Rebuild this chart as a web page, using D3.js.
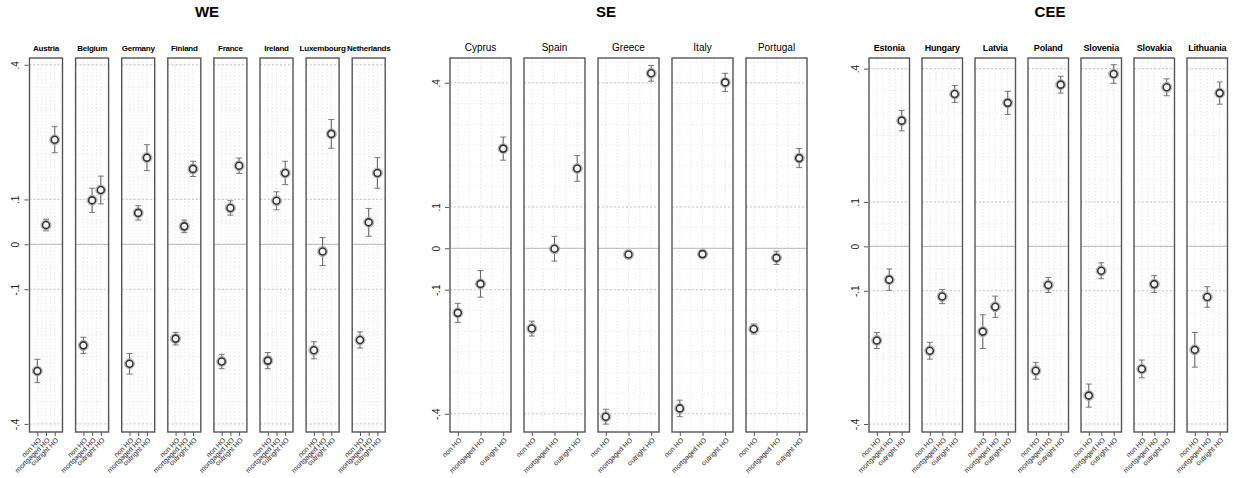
<!DOCTYPE html>
<html>
<head>
<meta charset="utf-8">
<script src="https://cdn.jsdelivr.net/npm/d3@7"></script>
<style>
  html, body { margin: 0; padding: 0; background: #fff; }
  svg { display: block; font-family: "Liberation Sans", Arial, sans-serif; }
</style>
</head>
<body>
<svg id="chart" width="1234" height="478"></svg>
<script>
// Outcome categories shown on every panel's x axis
const categories = ["non HO", "mortgaged HO", "outright HO"];

// Y axis ticks shared by all regions
const yTickValues = [-0.4, -0.1, 0, 0.1, 0.4];
const yTickLabels = ["-.4", "-.1", "0", ".1", ".4"];

// Western Europe
const weCountries = ["Austria", "Belgium", "Germany", "Finland", "France", "Ireland", "Luxembourg", "Netherlands"];
const weEstimates = [
  [-0.282, 0.043, 0.233],
  [-0.225, 0.098, 0.121],
  [-0.266, 0.070, 0.193],
  [-0.210, 0.040, 0.168],
  [-0.261, 0.081, 0.175],
  [-0.259, 0.097, 0.159],
  [-0.236, -0.016, 0.246],
  [-0.213, 0.049, 0.159]
];
const weErrors = [
  [0.026, 0.013, 0.029],
  [0.018, 0.027, 0.031],
  [0.023, 0.016, 0.029],
  [0.014, 0.014, 0.017],
  [0.016, 0.016, 0.017],
  [0.018, 0.020, 0.026],
  [0.019, 0.031, 0.032],
  [0.018, 0.031, 0.034]
];

// Southern Europe
const seCountries = ["Cyprus", "Spain", "Greece", "Italy", "Portugal"];
const seEstimates = [
  [-0.156, -0.086, 0.241],
  [-0.194, -0.001, 0.193],
  [-0.407, -0.015, 0.423],
  [-0.387, -0.014, 0.401],
  [-0.195, -0.023, 0.218]
];
const seErrors = [
  [0.023, 0.032, 0.028],
  [0.018, 0.030, 0.031],
  [0.018, 0.007, 0.019],
  [0.020, 0.008, 0.022],
  [0.012, 0.016, 0.023]
];

// Central and Eastern Europe
const ceeCountries = ["Estonia", "Hungary", "Latvia", "Poland", "Slovenia", "Slovakia", "Lithuania"];
const ceeEstimates = [
  [-0.212, -0.075, 0.283],
  [-0.235, -0.113, 0.343],
  [-0.192, -0.136, 0.323],
  [-0.280, -0.087, 0.364],
  [-0.336, -0.055, 0.388],
  [-0.276, -0.085, 0.358],
  [-0.233, -0.114, 0.345]
];
const ceeErrors = [
  [0.018, 0.024, 0.023],
  [0.019, 0.016, 0.019],
  [0.038, 0.024, 0.026],
  [0.019, 0.017, 0.019],
  [0.026, 0.018, 0.021],
  [0.020, 0.019, 0.019],
  [0.039, 0.023, 0.025]
];

// Panel geometry for each region block
const blocks = [
  { title: "WE",  titleX: 207, countries: weCountries,  est: weEstimates,  err: weErrors,
    left: 29.5, panelW: 33, step: 46.1, yDomain: [-0.418, 0.415], titleFont: "bold 8px", titleSpacing: -0.25, axisLabelX: 15 },
  { title: "SE",  titleX: 606, countries: seCountries,  est: seEstimates,  err: seErrors,
    left: 450, panelW: 61, step: 74, yDomain: [-0.444, 0.46], titleFont: "10px", titleSpacing: 0, axisLabelX: 436 },
  { title: "CEE", titleX: 1050, countries: ceeCountries, est: ceeEstimates, err: ceeErrors,
    left: 869, panelW: 40.5, step: 53, yDomain: [-0.418, 0.424], titleFont: "bold 9px", titleSpacing: -0.2, axisLabelX: 855 }
];

const panelTop = 58, panelBottom = 432;
const svg = d3.select("#chart");

blocks.forEach(b => {
  const g = svg.append("g");
  const y = d3.scaleLinear().domain(b.yDomain).range([panelBottom, panelTop]);

  // Region title
  g.append("text")
    .attr("x", b.titleX).attr("y", 17)
    .attr("text-anchor", "middle")
    .style("font", "bold 15px 'Liberation Sans', Arial, sans-serif")
    .text(b.title);

  // Y axis on the left of the first panel
  const yAxis = d3.axisLeft(y).tickValues(yTickValues)
    .tickFormat((d, i) => yTickLabels[i]).tickSize(4).tickPadding(3);
  const ya = g.append("g").attr("transform", `translate(${b.left - 1},0)`).call(yAxis);
  ya.select(".domain").remove();
  ya.selectAll(".tick line").attr("stroke", "#555");
  ya.selectAll(".tick text")
    .attr("x", null).attr("dy", null)
    .attr("transform", `translate(${b.axisLabelX - (b.left - 1)},0) rotate(-90)`)
    .attr("text-anchor", "middle")
    .attr("dy", "0.35em")
    .style("font", "10px 'Liberation Sans', Arial, sans-serif")
    .attr("fill", "#222");

  b.countries.forEach((c, ci) => {
    const x0 = b.left + ci * b.step;
    const x = d3.scalePoint().domain(categories).range([x0 + 7.8, x0 + b.panelW - 7.8]);
    const p = g.append("g");

    // Minor grid
    const minor = d3.range(-0.4, 0.46, 0.05).filter(v => v >= b.yDomain[0] && v <= b.yDomain[1]);
    p.selectAll("line.minor").data(minor).join("line")
      .attr("x1", x0).attr("x2", x0 + b.panelW)
      .attr("y1", d => y(d)).attr("y2", d => y(d))
      .attr("stroke", "#e4e4e4").attr("stroke-width", 0.7).attr("stroke-dasharray", "1.5,2");

    const mids = [];
    for (let i = 0; i < categories.length - 1; i++) mids.push((x(categories[i]) + x(categories[i + 1])) / 2);
    p.selectAll("line.vg").data(categories.map(k => x(k)).concat(mids)).join("line")
      .attr("x1", d => d).attr("x2", d => d).attr("y1", panelTop).attr("y2", panelBottom)
      .attr("stroke", "#dcdcdc").attr("stroke-width", 0.7).attr("stroke-dasharray", "1.5,2");

    // Major grid at labelled ticks
    p.selectAll("line.major").data(yTickValues.filter(v => v !== 0)).join("line")
      .attr("x1", x0).attr("x2", x0 + b.panelW)
      .attr("y1", d => y(d)).attr("y2", d => y(d))
      .attr("stroke", "#c4c4c4").attr("stroke-width", 0.9).attr("stroke-dasharray", "2,2");
    p.append("line")
      .attr("x1", x0).attr("x2", x0 + b.panelW)
      .attr("y1", y(0)).attr("y2", y(0))
      .attr("stroke", "#b8b8b8").attr("stroke-width", 1);

    // Panel frame
    p.append("rect")
      .attr("x", x0).attr("y", panelTop).attr("width", b.panelW).attr("height", panelBottom - panelTop)
      .attr("fill", "none").attr("stroke", "#555").attr("stroke-width", 1.4);

    // Panel title
    p.append("text")
      .attr("x", x0 + b.panelW / 2).attr("y", 51)
      .attr("text-anchor", "middle")
      .style("font", `${b.titleFont} 'Liberation Sans', Arial, sans-serif`)
      .style("letter-spacing", `${b.titleSpacing}px`)
      .text(c);

    // X axis with rotated category labels
    const xAxis = d3.axisBottom(x).tickSize(4).tickPadding(2);
    const xa = p.append("g").attr("transform", `translate(0,${panelBottom})`).call(xAxis);
    xa.select(".domain").remove();
    xa.selectAll(".tick line").attr("stroke", "#555");
    xa.selectAll(".tick text")
      .attr("y", null).attr("dy", null)
      .attr("transform", "translate(2,7) rotate(-45)")
      .attr("text-anchor", "end")
      .attr("dy", "0.35em")
      .style("font", "7px 'Liberation Sans', Arial, sans-serif")
      .attr("fill", "#222");

    // Estimates with confidence intervals
    const pts = categories.map((k, i) => ({ k, v: b.est[ci][i], e: b.err[ci][i] }));
    p.selectAll("line.ci").data(pts).join("line")
      .attr("x1", d => x(d.k)).attr("x2", d => x(d.k))
      .attr("y1", d => y(d.v - d.e)).attr("y2", d => y(d.v + d.e))
      .attr("stroke", "#666").attr("stroke-width", 1.1);
    [1, -1].forEach(s => {
      p.selectAll(null).data(pts).join("line")
        .attr("x1", d => x(d.k) - 3).attr("x2", d => x(d.k) + 3)
        .attr("y1", d => y(d.v + s * d.e)).attr("y2", d => y(d.v + s * d.e))
        .attr("stroke", "#777").attr("stroke-width", 1);
    });
    p.selectAll("circle.halo").data(pts).join("circle")
      .attr("cx", d => x(d.k)).attr("cy", d => y(d.v)).attr("r", 5)
      .attr("fill", "none").attr("stroke", "#aaa").attr("stroke-width", 1);
    p.selectAll("circle.pt").data(pts).join("circle")
      .attr("cx", d => x(d.k)).attr("cy", d => y(d.v)).attr("r", 3.5)
      .attr("fill", "#f4f4f4").attr("stroke", "#333").attr("stroke-width", 1.6);
  });
});
</script>
</body>
</html>
